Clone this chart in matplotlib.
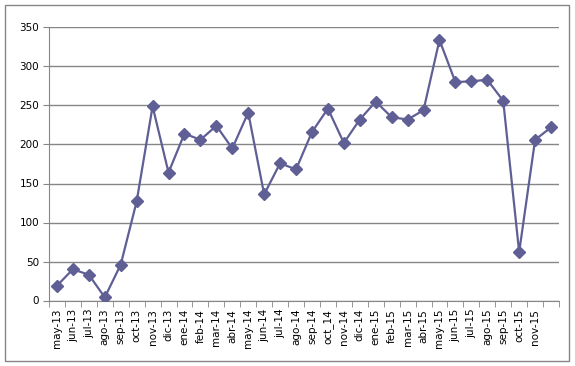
import matplotlib
matplotlib.use("Agg")
import matplotlib.pyplot as plt
from matplotlib.patches import Rectangle
import numpy as np

categories = ["may-13", "jun-13", "jul-13", "ago-13", "sep-13", "oct-13", "nov-13", "dic-13",
              "ene-14", "feb-14", "mar-14", "abr-14", "may-14", "jun-14", "jul-14", "ago-14",
              "sep-14", "oct_14", "nov-14", "dic-14", "ene-15", "feb-15", "mar-15", "abr-15",
              "may-15", "jun-15", "jul-15", "ago-15", "sep-15", "oct-15", "nov-15", ""]
values = [19, 40, 33, 4, 46, 127, 249, 164,
          214, 206, 224, 195, 241, 136, 176, 168,
          216, 246, 202, 232, 255, 235, 232, 244,
          334, 280, 281, 283, 256, 62, 206, 222]
yticks = [0, 50, 100, 150, 200, 250, 300, 350]

W, H = 575, 366
fig = plt.figure(figsize=(W / 100, H / 100), dpi=100)
fig.patches.append(Rectangle((5 / W, 1 - 361 / H), 564 / W, 356 / H, transform=fig.transFigure,
                             fill=False, edgecolor="#868686", linewidth=1.0))
ax = fig.add_axes([49 / W, 1 - 300.5 / H, 510 / W, 273 / H])

x = np.arange(len(categories))
ax.plot(x, values, color="#5f5f96", linewidth=1.6, marker="D", markersize=6,
        markerfacecolor="#5f5f96", markeredgecolor="#5f5f96", zorder=3)

ax.set_xlim(-0.5, len(categories) - 0.5)
ax.set_ylim(0, 350)
ax.set_yticks(yticks)
ax.set_yticklabels([str(v) for v in yticks], fontsize=7.5, family="DejaVu Sans")
ax.set_xticks(x)
ax.set_xticklabels(categories, rotation=90, fontsize=7.5, family="DejaVu Sans")
ax.tick_params(axis="x", which="major", length=0, pad=6)
ax.set_xticks(np.arange(-0.5, len(categories), 1), minor=True)
ax.tick_params(axis="x", which="minor", length=4, color="#868686", direction="out")
ax.tick_params(axis="y", length=4, color="#868686", direction="out", pad=3)

ax.grid(axis="y", color="#868686", linewidth=1.0)
ax.set_axisbelow(True)
for s in ["top", "right"]:
    ax.spines[s].set_visible(False)
ax.spines["left"].set_color("#868686")
ax.spines["bottom"].set_color("#868686")

fig.savefig("out.png", dpi=100)
